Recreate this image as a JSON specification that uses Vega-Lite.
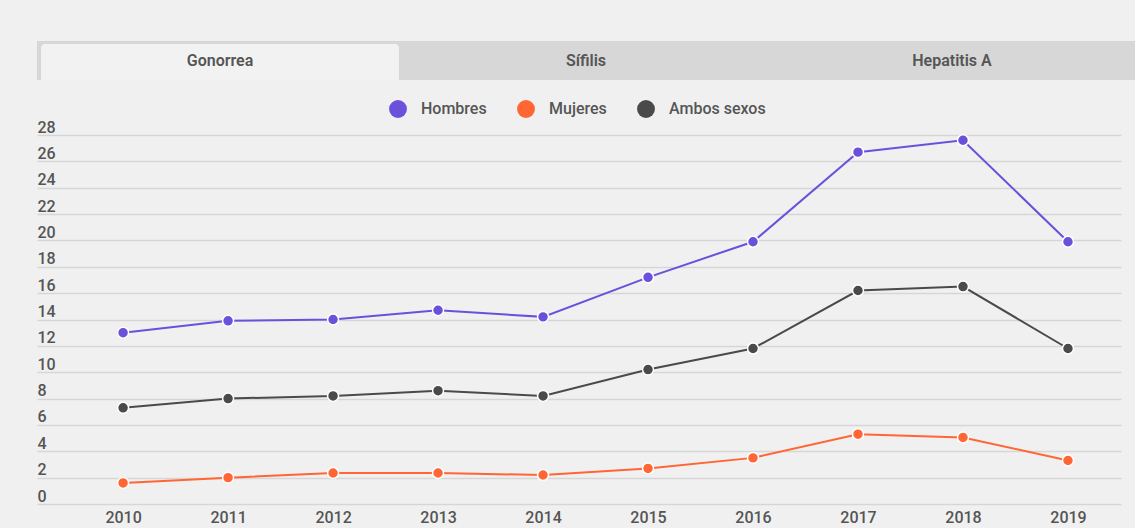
{
  "$schema": "https://vega.github.io/schema/vega-lite/v6.json",
  "background": "#f0f0f0",
  "padding": {"left": 37, "top": 41, "right": 0, "bottom": 3},
  "spacing": 20,
  "resolve": {"legend": {"color": "independent"}},
  "config": {
    "view": {"stroke": null},
    "font": "Roboto",
    "axis": {"labelFont": "Roboto", "labelColor": "#555555", "labelFontSize": 16, "labelFontWeight": 500}
  },
  "datasets": {
    "tabs": [
      {"tab": "Gonorrea", "start": 0, "end": 1, "mid": 0.5, "active": true},
      {"tab": "Sífilis", "start": 1, "end": 2, "mid": 1.5, "active": false},
      {"tab": "Hepatitis A", "start": 2, "end": 3, "mid": 2.5, "active": false}
    ],
    "rates": [
      {"year": 2010, "group": "Hombres", "value": 13.0},
      {"year": 2011, "group": "Hombres", "value": 13.9},
      {"year": 2012, "group": "Hombres", "value": 14.0},
      {"year": 2013, "group": "Hombres", "value": 14.7},
      {"year": 2014, "group": "Hombres", "value": 14.2},
      {"year": 2015, "group": "Hombres", "value": 17.2},
      {"year": 2016, "group": "Hombres", "value": 19.9},
      {"year": 2017, "group": "Hombres", "value": 26.7},
      {"year": 2018, "group": "Hombres", "value": 27.6},
      {"year": 2019, "group": "Hombres", "value": 19.9},
      {"year": 2010, "group": "Mujeres", "value": 1.6},
      {"year": 2011, "group": "Mujeres", "value": 2.0},
      {"year": 2012, "group": "Mujeres", "value": 2.35},
      {"year": 2013, "group": "Mujeres", "value": 2.35},
      {"year": 2014, "group": "Mujeres", "value": 2.2},
      {"year": 2015, "group": "Mujeres", "value": 2.7},
      {"year": 2016, "group": "Mujeres", "value": 3.5},
      {"year": 2017, "group": "Mujeres", "value": 5.3},
      {"year": 2018, "group": "Mujeres", "value": 5.05},
      {"year": 2019, "group": "Mujeres", "value": 3.3},
      {"year": 2010, "group": "Ambos sexos", "value": 7.3},
      {"year": 2011, "group": "Ambos sexos", "value": 8.0},
      {"year": 2012, "group": "Ambos sexos", "value": 8.2},
      {"year": 2013, "group": "Ambos sexos", "value": 8.6},
      {"year": 2014, "group": "Ambos sexos", "value": 8.2},
      {"year": 2015, "group": "Ambos sexos", "value": 10.2},
      {"year": 2016, "group": "Ambos sexos", "value": 11.8},
      {"year": 2017, "group": "Ambos sexos", "value": 16.2},
      {"year": 2018, "group": "Ambos sexos", "value": 16.5},
      {"year": 2019, "group": "Ambos sexos", "value": 11.8}
    ]
  },
  "vconcat": [
    {
      "width": 1098,
      "height": 39,
      "data": {"name": "tabs"},
      "layer": [
        {
          "mark": {"type": "rect", "fill": "#d7d7d7"},
          "encoding": {
            "x": {"field": "start", "type": "quantitative", "scale": {"domain": [0, 3], "nice": false, "zero": false}, "axis": null},
            "x2": {"field": "end"}
          }
        },
        {
          "transform": [{"filter": "datum.active"}],
          "mark": {"type": "rect", "fill": "#f2f2f2", "xOffset": 4, "x2Offset": -4, "yOffset": 3, "cornerRadiusTopLeft": 4, "cornerRadiusTopRight": 4},
          "encoding": {
            "x": {"field": "start", "type": "quantitative"},
            "x2": {"field": "end"}
          }
        },
        {
          "mark": {"type": "text", "font": "Roboto", "fontSize": 16, "fontWeight": 600, "color": "#555555", "baseline": "middle"},
          "encoding": {
            "x": {"field": "mid", "type": "quantitative"},
            "text": {"field": "tab"}
          }
        }
      ]
    },
    {
      "width": 1084,
      "height": 369,
      "data": {"name": "rates"},
      "encoding": {
        "x": {
          "field": "year", "type": "quantitative",
          "scale": {"domain": [2009.18, 2019.505], "nice": false, "zero": false},
          "axis": {"title": null, "values": [2010, 2011, 2012, 2013, 2014, 2015, 2016, 2017, 2018, 2019], "format": "d", "grid": false, "domain": false, "ticks": false, "labelPadding": 5, "labelFlush": false}
        },
        "y": {
          "field": "value", "type": "quantitative",
          "scale": {"domain": [0, 28], "nice": false},
          "axis": {"title": null, "values": [0, 2, 4, 6, 8, 10, 12, 14, 16, 18, 20, 22, 24, 26, 28], "domain": false, "ticks": false, "tickSize": 0, "labelAlign": "left", "labelBaseline": "alphabetic", "labelPadding": 0, "labelOffset": -3, "labelFlush": false, "gridColor": "#d6d6d6", "gridWidth": 1.5}
        },
        "color": {
          "field": "group", "type": "nominal",
          "scale": {"domain": ["Hombres", "Mujeres", "Ambos sexos"], "range": ["#6b50dc", "#ff6633", "#4a4a4a"]},
          "legend": {"title": null, "orient": "none", "direction": "horizontal", "legendX": 352, "legendY": -35, "symbolType": "circle", "symbolSize": 320, "symbolStrokeWidth": 0, "labelFont": "Roboto", "labelFontSize": 16, "labelFontWeight": 500, "labelColor": "#555555", "labelOffset": 14, "columnPadding": 30}
        }
      },
      "layer": [
        {"mark": {"type": "line", "strokeWidth": 2}},
        {"mark": {"type": "point", "filled": true, "opacity": 1, "size": 120, "stroke": "white", "strokeWidth": 1.5}}
      ]
    }
  ]
}
